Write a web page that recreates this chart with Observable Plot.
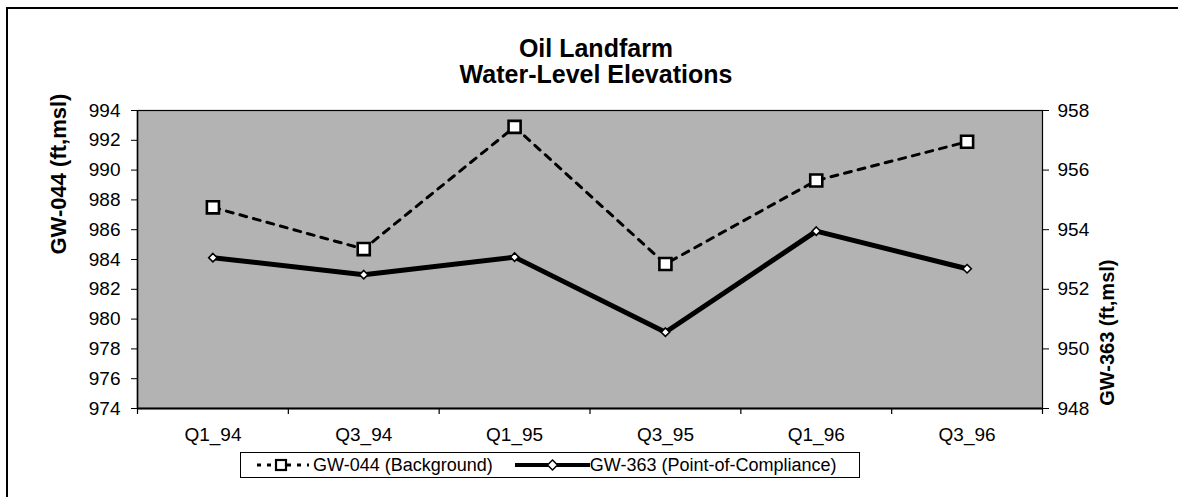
<!DOCTYPE html>
<html><head><meta charset="utf-8">
<script src="https://cdn.jsdelivr.net/npm/d3@7"></script>
<script src="https://cdn.jsdelivr.net/npm/@observablehq/plot@0.6"></script>
<style>
html,body{margin:0;padding:0;background:#fff;overflow:hidden}
body{font-family:"Liberation Sans",Arial,sans-serif;color:#000}
#wrap{position:relative;width:1178px;height:497px;overflow:hidden}
#frame{position:absolute;left:6px;top:7px;width:1300px;height:600px;border-left:2px solid #000;border-top:2px solid #000}
#title{position:absolute;left:0;width:1192px;top:35px;text-align:center;font-weight:bold;font-size:25px;line-height:26px}
#chart{position:absolute;left:0;top:87px}
#legend{position:absolute;left:240px;top:452px;width:620px;height:26px;border:1px solid #000;box-sizing:border-box;background:#fff;display:flex;align-items:center;font-size:18px;white-space:nowrap}
#legend .item{display:flex;align-items:center}
#legend svg{display:block}
</style>
</head><body>
<div id="wrap">
<div id="frame"></div>
<div id="title">Oil Landfarm<br>Water-Level Elevations</div>
<div id="chart"></div>
<div id="legend"></div>
</div>
<script>
const categories = ["Q1_94", "Q3_94", "Q1_95", "Q3_95", "Q1_96", "Q3_96"];
const gw044 = [987.5, 984.7, 992.9, 983.7, 989.3, 991.9];
const gw363 = [953.06, 952.49, 953.08, 950.56, 953.95, 952.69];
const leftTicks = [974, 976, 978, 980, 982, 984, 986, 988, 990, 992, 994];
const rightTicks = [948, 950, 952, 954, 956, 958];
const leftDomain = [974, 994];
const rightDomain = [948, 958];
const seriesNames = ["GW-044 (Background)", "GW-363 (Point-of-Compliance)"];
const axisTitles = ["GW-044 (ft,msl)", "GW-363 (ft,msl)"];

const k = (leftDomain[1] - leftDomain[0]) / (rightDomain[1] - rightDomain[0]);
const toLeft = v => leftDomain[0] + (v - rightDomain[0]) * k;
const toRight = v => rightDomain[0] + (v - leftDomain[0]) / k;

const data044 = categories.map((c, i) => ({i, v: gw044[i]}));
const data363 = categories.map((c, i) => ({i, v: toLeft(gw363[i])}));

const font = "'Liberation Sans', Arial, sans-serif";
const W = 1178, H = 363, mL = 137, mR = 136, mT = 23, mB = 42;

const chart = Plot.plot({
  width: W, height: H,
  marginTop: mT, marginBottom: mB, marginLeft: mL, marginRight: mR,
  style: {fontFamily: font, fontSize: "19px", color: "#000", background: "transparent", overflow: "visible"},
  x: {type: "linear", domain: [-0.5, categories.length - 0.5]},
  y: {domain: leftDomain},
  marks: [
    Plot.frame({fill: "#b3b3b3"}),
    Plot.axisY(leftTicks, {anchor: "left", tickSize: 6, tickPadding: 11, label: null, fontSize: 19, tickFormat: d => String(d)}),
    Plot.axisY(rightTicks.map(toLeft), {anchor: "right", tickSize: 6, tickPadding: 9, label: null, fontSize: 19, tickFormat: d => String(Math.round(toRight(d)))}),
    Plot.axisX(d3.range(categories.length), {anchor: "bottom", tickSize: 0, tickPadding: 19, label: null, fontSize: 19, tickFormat: i => categories[i]}),
    Plot.ruleX(d3.range(categories.length + 1).map(i => i - 0.5), {y1: leftDomain[0], y2: leftDomain[0], insetBottom: -6, stroke: "#000", strokeWidth: 1.2}),
    Plot.frame({stroke: "#000", strokeWidth: 1.2}),
    Plot.ruleY([leftDomain[0]], {stroke: "#000", strokeWidth: 2}),
    Plot.ruleX([-0.5], {stroke: "#000", strokeWidth: 1.5}),
    Plot.line(data044, {x: "i", y: "v", stroke: "#000", strokeWidth: 3, strokeDasharray: "7,7"}),
    Plot.dot(data044, {x: "i", y: "v", symbol: "square", r: 6.8, fill: "#fff", stroke: "#000", strokeWidth: 2.6}),
    Plot.line(data363, {x: "i", y: "v", stroke: "#000", strokeWidth: 5}),
    Plot.dot(data363, {x: "i", y: "v", symbol: "diamond2", r: 3.8, fill: "#fff", stroke: "#000", strokeWidth: 1.6}),
    Plot.text([axisTitles[0]], {frameAnchor: "left", rotate: -90, dx: -79, dy: -5, fontWeight: "bold", fontSize: 22, fill: "#000"}),
    Plot.text([axisTitles[1]], {frameAnchor: "right", rotate: -90, dx: 65, fontWeight: "bold", fontSize: 20, fill: "#000"})
  ]
});
document.getElementById("chart").appendChild(chart);

// legend
const legend = document.getElementById("legend");
function swatch(kind) {
  const w = kind === 0 ? 58 : 75;
  const s = d3.create("svg").attr("width", w).attr("height", 20);
  if (kind === 0) {
    s.append("line").attr("x1", 4).attr("x2", w - 2).attr("y1", 10).attr("y2", 10)
      .attr("stroke", "#000").attr("stroke-width", 3).attr("stroke-dasharray", "4,6");
    s.append("rect").attr("x", 23).attr("y", 5).attr("width", 10).attr("height", 10)
      .attr("fill", "#fff").attr("stroke", "#000").attr("stroke-width", 2.2);
  } else {
    s.append("line").attr("x1", 0).attr("x2", w).attr("y1", 10).attr("y2", 10)
      .attr("stroke", "#000").attr("stroke-width", 4);
    s.append("path").attr("d", `M${w / 2},5L${w / 2 + 5},10L${w / 2},15L${w / 2 - 5},10Z`)
      .attr("fill", "#fff").attr("stroke", "#000").attr("stroke-width", 1.5);
  }
  return s.node();
}
seriesNames.forEach((name, idx) => {
  const it = document.createElement("div");
  it.className = "item";
  it.style.marginLeft = idx === 0 ? "12px" : "22px";
  it.appendChild(swatch(idx));
  const t = document.createElement("span");
  t.textContent = name;
  t.style.marginLeft = idx === 0 ? "2px" : "0px";
  it.appendChild(t);
  legend.appendChild(it);
});
</script>
</body></html>
